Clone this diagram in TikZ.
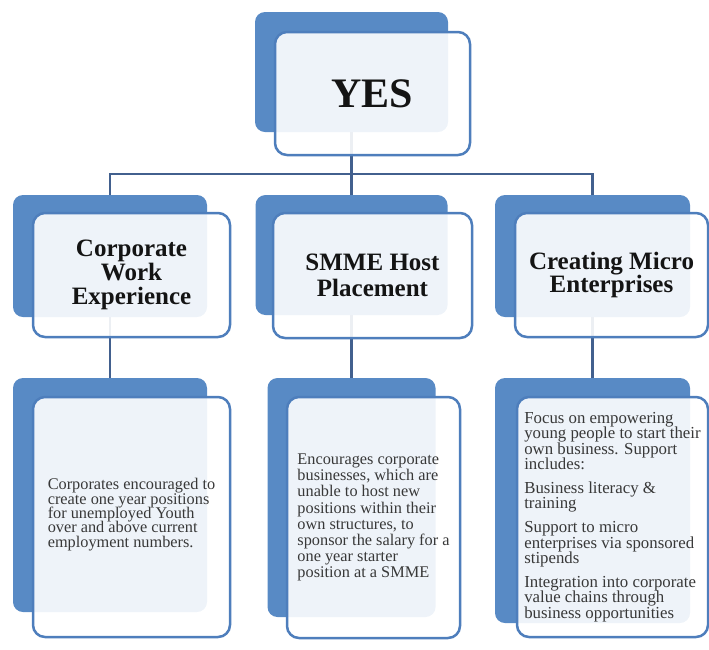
\documentclass[tikz,border=0pt]{standalone}
\usepackage{fontspec}
\setmainfont{Liberation Serif}
\usetikzlibrary{backgrounds}

\definecolor{backblue}{RGB}{88,138,197}
\definecolor{edgeblue}{RGB}{78,126,188}
\definecolor{linkblue}{RGB}{66,96,142}
\definecolor{bodygray}{RGB}{56,56,56}

% let lines sit closer than the glyphs would allow
\newcommand\tightlines{\lineskiplimit=-30pt\relax}

\tikzset{
  backbox/.style={rectangle,rounded corners=10pt,fill=backblue,inner sep=0pt},
  frontbox/.style={rectangle,rounded corners=12pt,draw=edgeblue,line width=2.5pt,
    fill=white,fill opacity=0.9,text opacity=1,inner sep=0pt},
  link/.style={draw=linkblue,line width=2.6pt},
  headtext/.style={text=black!92,align=center,
    font={\bfseries\fontsize{25}{#1}\selectfont\tightlines}},
  bodytext/.style 2 args={text=bodygray,align=left,
    font={\fontsize{#1}{#2}\selectfont\tightlines}}
}

\begin{document}
\begin{tikzpicture}[x=1pt,y=-1pt]
  \useasboundingbox (0,0) rectangle (709,649);

  % blue boxes behind
  \begin{scope}[every node/.style={backbox}]
    \node[minimum width=193pt,minimum height=120pt] (yesB)  at (351.5,72)  {};
    \node[minimum width=194pt,minimum height=122pt] (cweB)  at (110,256)   {};
    \node[minimum width=192pt,minimum height=120pt] (shmB)  at (351.5,255) {};
    \node[minimum width=195pt,minimum height=122pt] (cmeB)  at (592.5,256) {};
    \node[minimum width=194pt,minimum height=234pt] (cwe2B) at (110,495)   {};
    \node[minimum width=168pt,minimum height=239pt] (shm2B) at (351.5,497.5) {};
    \node[minimum width=195pt,minimum height=245pt] (cme2B) at (592.5,500.5) {};
  \end{scope}

  % light boxes in front, with the text
  \begin{scope}[every node/.style={frontbox}]
    \node[minimum width=195pt,minimum height=123pt,text=black!92,
          font=\bfseries\fontsize{42}{48}\selectfont] (yes) at (372.5,93.5) {YES};
    \node[minimum width=197pt,minimum height=124pt,headtext=24] (cwe) at (131.5,275)
      {Corporate\\Work\\Experience};
    \node[minimum width=199pt,minimum height=125pt,headtext=26.5] (shm) at (372.5,275.5)
      {SMME Host\\Placement};
    \node[minimum width=193pt,minimum height=124pt,headtext=23.5] (cme) at (611.5,275)
      {Creating Micro\\Enterprises};
    \node[minimum width=197pt,minimum height=240pt,bodytext={16.3}{14.3}] (cwe2) at (131.5,517)
      {Corporates encouraged to\\create one year positions\\for unemployed Youth\\
       over and above current\\employment numbers.\\[-6pt]};
    \node[minimum width=173pt,minimum height=241pt,bodytext={16.3}{16.2}] (shm2) at (373.5,517.5)
      {Encourages corporate\\businesses, which are\\unable to host new\\
       positions within their\\own structures, to\\sponsor the salary for a\\
       one year starter\\position at a SMME};
    \node[minimum width=191pt,minimum height=240pt,bodytext={16.8}{15.3}] (cme2) at (612.5,517)
      {Focus on empowering\\young people to start their\\own business. Support\\includes:\\[8.8pt]
       Business literacy \&\\training\\[8.8pt]
       Support to micro\\enterprises via sponsored\\stipends\\[8.8pt]
       Integration into corporate\\value chains through\\business opportunities};
  \end{scope}

  % connectors
  \begin{scope}[on background layer]
    \coordinate (bus) at (0,174);
    \draw[link] (yesB.center) -- (yesB.center |- bus) -| (cweB.north);
    \draw[link] (yesB.center |- bus) -| (cmeB.north);
    \draw[link] (yesB.center |- bus) -- (shmB.north);
    \draw[link] (cweB.center) -- (cwe2B.north);
    \draw[link] (shmB.center) -- (shm2B.north);
    \draw[link] (cmeB.center) -- (cme2B.north);
  \end{scope}
\end{tikzpicture}
\end{document}
